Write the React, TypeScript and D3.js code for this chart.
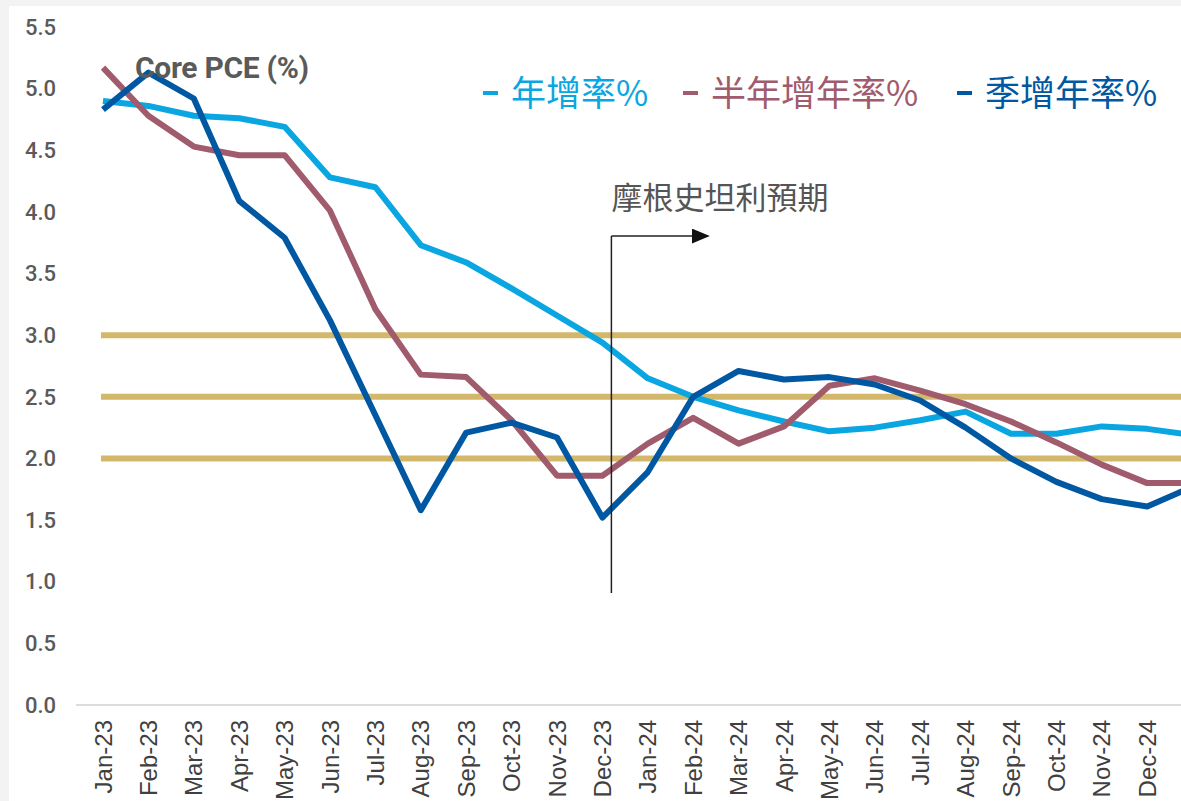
import React from 'react';
import * as d3 from 'd3';

const months = [
  'Jan-23', 'Feb-23', 'Mar-23', 'Apr-23', 'May-23', 'Jun-23', 'Jul-23', 'Aug-23', 'Sep-23', 'Oct-23', 'Nov-23', 'Dec-23',
  'Jan-24', 'Feb-24', 'Mar-24', 'Apr-24', 'May-24', 'Jun-24', 'Jul-24', 'Aug-24', 'Sep-24', 'Oct-24', 'Nov-24', 'Dec-24',
  'Jan-25',
];

// 年增率
const yoy = [4.9, 4.86, 4.78, 4.76, 4.69, 4.28, 4.2, 3.73, 3.59, 3.38, 3.16, 2.94,
  2.65, 2.5, 2.39, 2.3, 2.22, 2.25, 2.31, 2.38, 2.2, 2.2, 2.26, 2.24, 2.19];
// 半年增年率
const sixMonth = [5.17, 4.78, 4.53, 4.46, 4.46, 4.01, 3.21, 2.68, 2.66, 2.31, 1.86, 1.86,
  2.12, 2.33, 2.12, 2.26, 2.59, 2.65, 2.55, 2.44, 2.3, 2.13, 1.95, 1.8, 1.8];
// 季增年率
const threeMonth = [4.83, 5.13, 4.92, 4.09, 3.79, 3.12, 2.35, 1.58, 2.21, 2.29, 2.17, 1.52,
  1.89, 2.5, 2.71, 2.64, 2.66, 2.6, 2.47, 2.25, 2.0, 1.81, 1.67, 1.61, 1.77];

const yTicks = [0, 0.5, 1, 1.5, 2, 2.5, 3, 3.5, 4, 4.5, 5, 5.5];
const refLevels = [2, 2.5, 3];

const series = [
  { name: '年增率%', values: yoy, color: '#0aa6e2' },
  { name: '半年增年率%', values: sixMonth, color: '#a05b6c' },
  { name: '季增年率%', values: threeMonth, color: '#0058a2' },
];

const W = 1181;
const H = 801;

export default function App() {
  const x = d3.scalePoint<string>().domain(months).range([103, 103 + 45.4 * (months.length - 1)]);
  const y = d3.scaleLinear().domain([0, 5.5]).range([705, 27]);
  const line = d3.line<number>()
    .x((_, i) => x(months[i]) as number)
    .y((d) => y(d));

  const splitX = (x('Dec-23') as number) + 9;
  const legendPos = [483, 683, 957];

  return (
    <div style={{ position: 'absolute', left: 0, top: 0, width: W, height: H, overflow: 'hidden' }}>
      <svg width={W} height={H} style={{ display: 'block' }}>
        <defs>
          <marker id="arrow" viewBox="0 0 10 10" refX="9" refY="5" markerWidth="12" markerHeight="10" orient="auto"
            preserveAspectRatio="none">
            <path d="M0,0 L10,5 L0,10 z" fill="#111" />
          </marker>
        </defs>
        <rect width={W} height={H} fill="#f3f3f3" />
        <rect x={9} y={6} width={W - 9} height={H - 6} fill="#fff" />

        {/* y tick labels */}
        {yTicks.map((t) => (
          <text key={t} x={56} y={y(t)} dy="0.35em" textAnchor="end"
            style={{ font: '500 22px "Liberation Sans Narrow", "Roboto", sans-serif', fill: '#5a5a5a' }}>
            {t.toFixed(1)}
          </text>
        ))}

        {/* baseline */}
        <line x1={76} x2={W} y1={y(0)} y2={y(0)} stroke="#d0d0d0" strokeWidth={1.5} />

        {/* x labels */}
        {months.slice(0, 24).map((m) => (
          <text key={m} transform={`translate(${(x(m) as number) + 8.5},720) rotate(-90)`} textAnchor="end"
            style={{ font: '24px "Liberation Sans", Arial, sans-serif', fill: '#404040' }}>
            {m}
          </text>
        ))}

        {/* reference lines */}
        {refLevels.map((r) => (
          <line key={r} x1={101} x2={W} y1={y(r)} y2={y(r)} stroke="#d3b86b" strokeWidth={6} />
        ))}

        {/* series */}
        {series.map((s) => (
          <path key={s.name} d={line(s.values) || ''} fill="none" stroke={s.color} strokeWidth={6}
            strokeLinejoin="round" />
        ))}

        {/* forecast marker */}
        <line x1={splitX} x2={splitX} y1={593} y2={236} stroke="#222" strokeWidth={1.5} />
        <line x1={splitX} x2={708} y1={236} y2={236} stroke="#222" strokeWidth={1.5} markerEnd="url(#arrow)" />
        <text x={splitX} y={209}
          style={{ font: '31px "Noto Sans CJK TC", sans-serif', fill: '#555' }}>
          摩根史坦利預期
        </text>

        {/* title */}
        <text x={135} y={78} style={{ font: '700 30px Roboto, sans-serif', fill: '#5a5a5a', letterSpacing: '-0.3px' }}>Core PCE (%)</text>

        {/* legend */}
        {series.map((s, i) => (
          <g key={s.name}>
            <line x1={legendPos[i]} x2={legendPos[i] + 15} y1={93} y2={93} stroke={s.color} strokeWidth={4} />
            <text x={legendPos[i] + 28} y={106}
              style={{ font: '35px "Noto Sans CJK TC", sans-serif', fill: s.color }}>
              {s.name}
            </text>
          </g>
        ))}
      </svg>
    </div>
  );
}
